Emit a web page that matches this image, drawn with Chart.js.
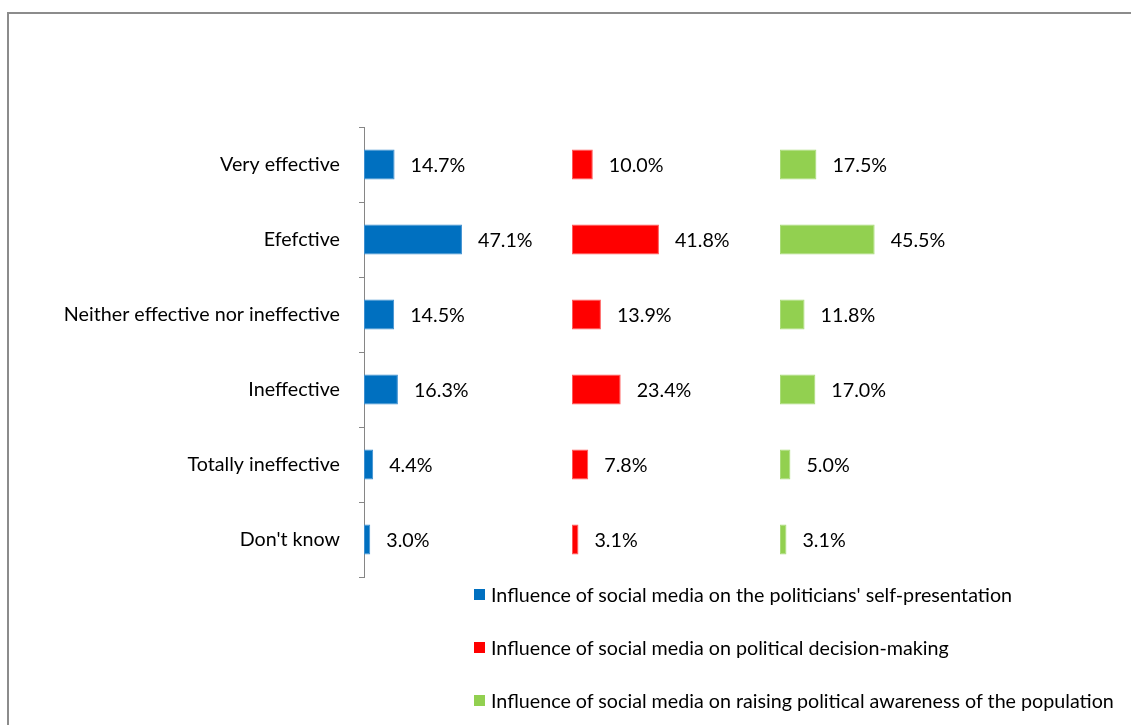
<!DOCTYPE html>
<html>
<head>
<meta charset="utf-8">
<script src="https://cdn.jsdelivr.net/npm/chart.js@4/dist/chart.umd.min.js"></script>
<style>
    body { margin: 0; background: #fff; }
    #wrap { position: relative; width: 1131px; height: 725px; overflow: hidden; font-family: Lato, sans-serif; }
    #frame { position: absolute; left: 7px; top: 12px; width: 1200px; height: 800px; border-top: 2px solid #8c8c8c; border-left: 2px solid #8c8c8c; }
    #legend { position: absolute; left: 474px; top: 579px; }
    .legend-item { display: flex; align-items: center; height: 30px; margin-bottom: 23px; font-size: 19.7px; color: #000; white-space: nowrap; }
    .legend-box { width: 11px; height: 11px; margin-right: 6px; }
</style>
</head>
<body>
<div id="wrap">
    <div id="frame"></div>
    <canvas id="chart"></canvas>
    <div id="legend"></div>
</div>
<script>
// Categories and series
const categories = ['Very effective', 'Efefctive', 'Neither effective nor ineffective', 'Ineffective', 'Totally ineffective', "Don't know"];
const seriesNames = [
    "Influence of social media on the politicians' self-presentation",
    'Influence of social media on political decision-making',
    'Influence of social media on raising political awareness of the population'
];
const selfPresentation = [14.7, 47.1, 14.5, 16.3, 4.4, 3.0];
const decisionMaking = [10.0, 41.8, 13.9, 23.4, 7.8, 3.1];
const politicalAwareness = [17.5, 45.5, 11.8, 17.0, 5.0, 3.1];

const colors = ['#0070C0', '#FF0000', '#92D050'];
const borderColors = ['#3d8fd0', '#ff5a5a', '#a9dc78'];
const fontSize = 19.7;

// Draw the percentage labels to the right of each bar
const valueLabels = {
    id: 'valueLabels',
    afterDatasetsDraw(chart) {
        const ctx = chart.ctx;
        ctx.save();
        ctx.font = fontSize + 'px Lato, sans-serif';
        ctx.fillStyle = '#000';
        ctx.textAlign = 'left';
        ctx.textBaseline = 'middle';
        chart.data.datasets.forEach((ds, i) => {
            const meta = chart.getDatasetMeta(i);
            meta.data.forEach((bar, j) => {
                ctx.fillText(ds.data[j].toFixed(1) + '%', bar.x + 16, bar.y + 1);
            });
        });
        ctx.restore();
    }
};

const seriesData = [selfPresentation, decisionMaking, politicalAwareness];
const axisIds = ['x1', 'x2', 'x3'];

const panelAxis = {
    type: 'linear',
    position: 'bottom',
    stack: 'panels',
    stackWeight: 1,
    min: 0,
    max: 100,
    display: false
};

const chart = new Chart(document.getElementById('chart').getContext('2d'), {
    type: 'bar',
    data: {
        labels: categories,
        datasets: seriesData.map((data, i) => ({
            label: seriesNames[i],
            data: data,
            xAxisID: axisIds[i],
            backgroundColor: colors[i],
            borderColor: borderColors[i],
            borderWidth: 1,
            borderSkipped: false,
            grouped: false,
            categoryPercentage: 0.4,
            barPercentage: 1
        }))
    },
    options: {
        indexAxis: 'y',
        responsive: true,
        maintainAspectRatio: false,
        animation: false,
        layout: {
            padding: { left: 0, top: 127, right: 143, bottom: 148 }
        },
        plugins: {
            legend: { display: false },
            tooltip: { enabled: false }
        },
        scales: {
            y: {
                type: 'category',
                position: 'left',
                afterFit(scale) {
                    scale.width = 364;
                },
                border: { color: '#868686', width: 1 },
                grid: {
                    offset: true,
                    drawOnChartArea: false,
                    drawTicks: true,
                    tickLength: 5,
                    color: '#868686'
                },
                ticks: {
                    padding: 19,
                    color: '#000',
                    font: { family: 'Lato, sans-serif', size: fontSize }
                }
            },
            x1: panelAxis,
            x2: { ...panelAxis },
            x3: { ...panelAxis }
        }
    },
    plugins: [valueLabels]
});

// Vertical legend under the plot
const legendEl = document.getElementById('legend');
chart.data.datasets.forEach(ds => {
    const item = document.createElement('div');
    item.className = 'legend-item';
    const box = document.createElement('span');
    box.className = 'legend-box';
    box.style.backgroundColor = ds.backgroundColor;
    item.appendChild(box);
    item.appendChild(document.createTextNode(ds.label));
    legendEl.appendChild(item);
});
</script>
</body>
</html>
